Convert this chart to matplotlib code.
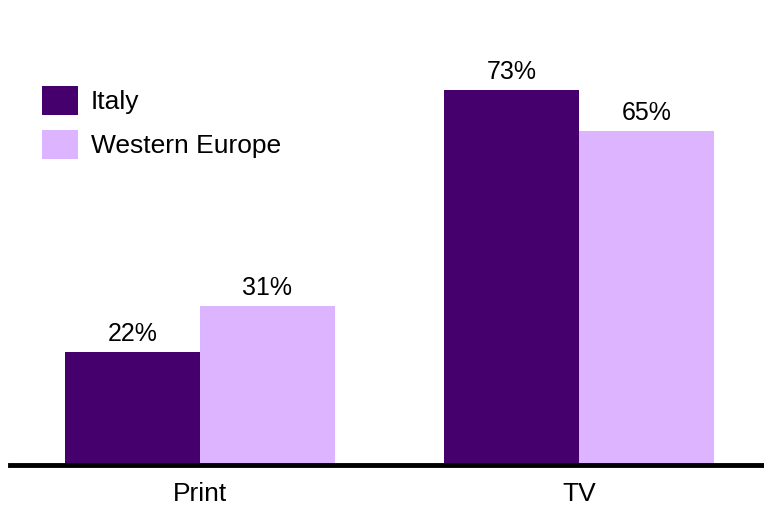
import matplotlib
matplotlib.use("Agg")
import matplotlib.pyplot as plt
import numpy as np

plt.rcParams['font.family'] = ['Liberation Sans', 'DejaVu Sans']

categories = ["Print", "TV"]
italy = [22, 73]
western_europe = [31, 65]
series_names = ["Italy", "Western Europe"]
colors = ["#46006e", "#dcb4ff"]

W, H = 764, 505
fig = plt.figure(figsize=(W / 100, H / 100), dpi=100)
# axes spans from the baseline rule up to y=80
ax = fig.add_axes([10 / W, (505 - 465) / H, (764 - 10) / W, 411 / H])

x = np.arange(len(categories))
width = 0.356
b1 = ax.bar(x - width / 2, italy, width, color=colors[0], label=series_names[0])
b2 = ax.bar(x + width / 2, western_europe, width, color=colors[1], label=series_names[1])

for bars, vals in ((b1, italy), (b2, western_europe)):
    for rect, v in zip(bars, vals):
        ax.text(rect.get_x() + rect.get_width() / 2, v + 1.1, f"{v}%",
                ha="center", va="bottom", fontsize=18)

ax.set_xlim(-0.501, 1.488)
ax.set_ylim(0, 80)
ax.set_xticks(x)
ax.set_xticklabels(categories, fontsize=19)
ax.tick_params(axis="x", length=0, pad=12)
ax.set_yticks([])
for s in ("top", "right", "left"):
    ax.spines[s].set_visible(False)
ax.spines["bottom"].set_linewidth(3.5)
ax.spines["bottom"].set_color("black")

leg = fig.legend(loc="upper left", bbox_to_anchor=(42 / W, 1 - 86 / H),
                 frameon=False, fontsize=19, borderpad=0, borderaxespad=0,
                 handlelength=1.36, handleheight=1.31,
                 labelspacing=0.57, handletextpad=0.5)

fig.savefig("out.png", dpi=100)
